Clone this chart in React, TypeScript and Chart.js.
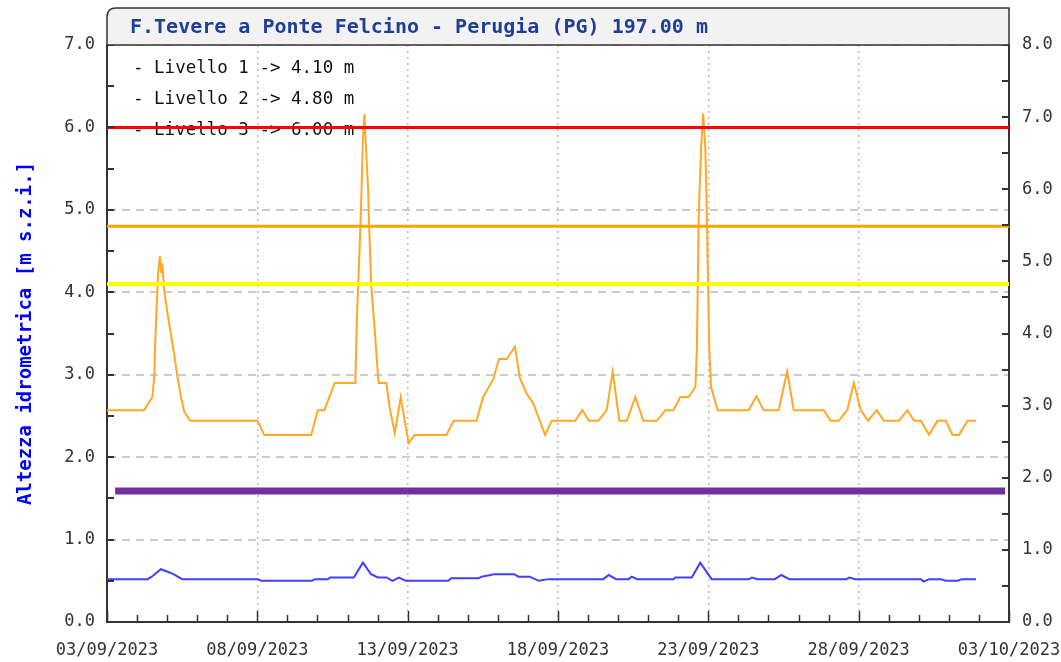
import React, { useEffect, useRef } from 'react';
import { Chart, registerables } from 'chart.js';

Chart.register(...registerables);

const chartTitle = 'F.Tevere a Ponte Felcino - Perugia (PG) 197.00 m';
const yAxisTitle = 'Altezza idrometrica [m s.z.i.]';
const xTickLabels = ['03/09/2023', '08/09/2023', '13/09/2023', '18/09/2023', '23/09/2023', '28/09/2023', '03/10/2023'];

const thresholdNames = ['Livello 1', 'Livello 2', 'Livello 3'];
const thresholdValues = [4.1, 4.8, 6.0];

// days since 03/09/2023 00:00
const orangeDays = [
  0, 1.23, 1.51, 1.57, 1.6, 1.65, 1.7, 1.76, 1.81, 1.84, 1.9, 2.01, 2.12, 2.23, 2.34, 2.46, 2.57, 2.77,
  5.01, 5.23, 6.79, 7.01, 7.23, 7.57, 8.26, 8.31, 8.4, 8.46, 8.51, 8.56, 8.6, 8.68, 8.73, 8.79, 8.88, 8.96,
  9.03, 9.29, 9.4, 9.57, 9.77, 9.9, 10.03, 10.23, 11.29, 11.53, 12.29, 12.51, 12.84, 13.04, 13.29, 13.57,
  13.73, 13.96, 14.18, 14.57, 14.79, 15.57, 15.81, 16.03, 16.34, 16.62, 16.82, 17.04, 17.29, 17.57, 17.84,
  18.29, 18.57, 18.84, 19.07, 19.34, 19.57, 19.62, 19.68, 19.76, 19.83, 19.9, 19.95, 20.03, 20.09, 20.31,
  21.34, 21.6, 21.84, 22.34, 22.62, 22.84, 23.84, 24.07, 24.34, 24.62, 24.84, 25.07, 25.31, 25.6, 25.84,
  26.34, 26.62, 26.84, 27.07, 27.34, 27.62, 27.9, 28.12, 28.34, 28.62, 28.9,
];
const orangeValues = [
  2.57, 2.57, 2.73, 2.98, 3.36, 3.81, 4.23, 4.44, 4.23, 4.35, 4.03, 3.75, 3.5, 3.26, 2.98, 2.73, 2.55, 2.44,
  2.44, 2.27, 2.27, 2.57, 2.57, 2.9, 2.9, 3.66, 4.51, 5.16, 5.85, 6.16, 5.85, 5.28, 4.69, 4.07, 3.66, 3.26,
  2.9, 2.9, 2.6, 2.29, 2.73, 2.45, 2.17, 2.27, 2.27, 2.44, 2.44, 2.73, 2.94, 3.19, 3.19, 3.34,
  2.96, 2.77, 2.65, 2.27, 2.44, 2.44, 2.57, 2.44, 2.44, 2.57, 3.04, 2.44, 2.44, 2.73, 2.44,
  2.44, 2.57, 2.57, 2.73, 2.73, 2.85, 3.32, 4.94, 5.75, 6.17, 5.75, 4.94, 3.32, 2.85, 2.57,
  2.57, 2.74, 2.57, 2.57, 3.04, 2.57, 2.57, 2.44, 2.44, 2.57, 2.9, 2.57, 2.44, 2.57, 2.44,
  2.44, 2.57, 2.44, 2.44, 2.27, 2.44, 2.44, 2.27, 2.27, 2.44, 2.44,
];

const blueDays = [
  0, 1.35, 1.49, 1.79, 2.02, 2.21, 2.5, 5.03, 5.12, 6.82, 6.91, 7.35, 7.43, 8.21, 8.51, 8.78, 9.01, 9.3,
  9.49, 9.71, 9.94, 11.35, 11.45, 12.36, 12.46, 12.88, 13.54, 13.68, 14.06, 14.36, 14.69, 16.5, 16.69,
  16.93, 17.35, 17.45, 17.64, 18.84, 18.9, 19.45, 19.73, 20.11, 21.35, 21.45, 21.63, 22.21, 22.43, 22.69,
  24.59, 24.69, 24.88, 27.07, 27.16, 27.35, 27.73, 27.89, 28.3, 28.43, 28.9,
];
const blueValues = [
  0.52, 0.52, 0.55, 0.64, 0.61, 0.58, 0.52, 0.52, 0.5, 0.5, 0.52, 0.52, 0.54, 0.54, 0.72, 0.58, 0.54, 0.54,
  0.5, 0.54, 0.5, 0.5, 0.53, 0.53, 0.55, 0.58, 0.58, 0.55, 0.55, 0.5, 0.52, 0.52, 0.57,
  0.52, 0.52, 0.55, 0.52, 0.52, 0.54, 0.54, 0.72, 0.52, 0.52, 0.54, 0.52, 0.52, 0.57, 0.52,
  0.52, 0.54, 0.52, 0.52, 0.49, 0.52, 0.52, 0.5, 0.5, 0.52, 0.52,
];

const purpleDays = [0.27, 29.87];
const purpleValues = [1.59, 1.59];

const MONO = 'DejaVu Sans Mono';

const toPoints = (xs: number[], ys: number[]) => xs.map((x, i) => ({ x, y: ys[i] }));

const decorPlugin = {
  id: 'decor',
  beforeDatasetsDraw(chart: any) {
    const ctx = chart.ctx;
    ctx.save();
    ctx.font = `17.5px "${MONO}"`;
    ctx.fillStyle = '#111';
    ctx.textBaseline = 'middle';
    ctx.textAlign = 'left';
    thresholdNames.forEach((n, i) => {
      ctx.fillText(`- ${n} -> ${thresholdValues[i].toFixed(2)} m`, 133, 68 + i * 31);
    });
    ctx.restore();
  },
  afterDraw(chart: any) {
    const ctx = chart.ctx;
    const { left, right, top, bottom } = chart.chartArea;
    const xs = chart.scales.x;
    const ys = chart.scales.y;
    const ys2 = chart.scales.y2;
    ctx.save();
    ctx.strokeStyle = '#333';
    ctx.lineWidth = 2;
    ctx.beginPath();
    for (let v = 0; v <= 7; v += 0.5) {
      const y = Math.round(ys.getPixelForValue(v));
      ctx.moveTo(left, y);
      ctx.lineTo(left + 7, y);
    }
    for (let v = 0; v <= 8; v += 0.5) {
      const y = Math.round(ys2.getPixelForValue(v));
      ctx.moveTo(right, y);
      ctx.lineTo(right - 7, y);
    }
    ctx.stroke();
    ctx.lineWidth = 1.5;
    ctx.beginPath();
    for (let d = 0; d <= 30; d++) {
      const x = Math.round(xs.getPixelForValue(d)) + 0.5;
      const len = d % 5 === 0 ? 11 : 7;
      ctx.moveTo(x, bottom);
      ctx.lineTo(x, bottom - len);
    }
    ctx.stroke();

    // title box
    const bx = left, by = 8, bw = right - left, bh = top - 8, r = 9;
    ctx.beginPath();
    ctx.moveTo(bx, by + bh);
    ctx.lineTo(bx, by + r);
    ctx.quadraticCurveTo(bx, by, bx + r, by);
    ctx.lineTo(bx + bw, by);
    ctx.lineTo(bx + bw, by + bh);
    ctx.closePath();
    ctx.fillStyle = '#f2f2f2';
    ctx.fill();
    ctx.strokeStyle = '#333';
    ctx.lineWidth = 1.5;
    ctx.stroke();
    ctx.font = `bold 20px "${MONO}"`;
    ctx.fillStyle = '#1f3f94';
    ctx.textBaseline = 'middle';
    ctx.textAlign = 'left';
    ctx.fillText(chartTitle, 130, 28);
    ctx.restore();
  },
};

export default function App() {
  const ref = useRef<HTMLCanvasElement>(null);
  useEffect(() => {
    if (!ref.current) return;
    Chart.defaults.font.family = MONO;
    const tickFont = { family: MONO, size: 17 };
    const chart = new Chart(ref.current, {
      type: 'line',
      data: {
        datasets: [
          { data: toPoints([0, 30], [thresholdValues[2], thresholdValues[2]]), borderColor: '#ff0000', borderWidth: 3, yAxisID: 'y' },
          { data: toPoints([0, 30], [thresholdValues[1], thresholdValues[1]]), borderColor: '#ffa500', borderWidth: 3, yAxisID: 'y' },
          { data: toPoints([0, 30], [thresholdValues[0], thresholdValues[0]]), borderColor: '#ffff00', borderWidth: 4, yAxisID: 'y' },
          { data: toPoints(orangeDays, orangeValues), borderColor: '#ffa826', borderWidth: 2, yAxisID: 'y' },
          { data: toPoints(blueDays, blueValues), borderColor: '#4040ff', borderWidth: 2, yAxisID: 'y' },
          { data: toPoints(purpleDays, purpleValues), borderColor: '#7030a0', borderWidth: 7, yAxisID: 'y' },
        ],
      },
      options: {
        animation: false,
        responsive: false,
        layout: { padding: { top: 45, left: 0, right: 0, bottom: 0 } },
        elements: { point: { radius: 0 }, line: { tension: 0, fill: false } },
        plugins: { legend: { display: false }, tooltip: { enabled: false }, title: { display: false } },
        scales: {
          x: {
            type: 'linear',
            min: 0,
            max: 30,
            afterFit: (s: any) => { s.height = 40; s.paddingLeft = 0; s.paddingRight = 0; },
            ticks: {
              stepSize: 5,
              autoSkip: false,
              maxRotation: 0,
              padding: 18,
              color: '#333',
              font: tickFont,
              callback: (v: any) => xTickLabels[Math.round(Number(v) / 5)],
            },
            grid: { color: '#bbbbbb', lineWidth: 1.5, drawTicks: false },
            border: { display: true, color: '#333', width: 2, dash: [2, 4] },
          },
          y: {
            position: 'left',
            min: 0,
            max: 7,
            afterFit: (s: any) => { s.width = 107; s.paddingTop = 0; s.paddingBottom = 0; },
            ticks: { stepSize: 1, padding: 12, color: '#333', font: tickFont, callback: (v: any) => Number(v).toFixed(1) },
            grid: { color: '#cccccc', lineWidth: 2, drawTicks: false },
            border: { display: true, color: '#333', width: 2, dash: [8, 6] },
            title: {
              display: true,
              text: yAxisTitle,
              color: '#0000ff',
              font: { family: MONO, size: 19, weight: 'bold' },
              padding: { top: 15, bottom: 0 },
            },
          },
          y2: {
            position: 'right',
            min: 0,
            max: 8,
            afterFit: (s: any) => { s.width = 52; s.paddingTop = 0; s.paddingBottom = 0; },
            ticks: { stepSize: 1, padding: 13, color: '#333', font: tickFont, callback: (v: any) => Number(v).toFixed(1) },
            grid: { drawOnChartArea: false, drawTicks: false },
            border: { display: true, color: '#333', width: 2 },
          },
        },
      },
      plugins: [decorPlugin],
    } as any);
    return () => chart.destroy();
  }, []);
  return (
    <div style={{ position: 'absolute', left: 0, top: 0, width: 1061, height: 662, background: '#fff' }}>
      <canvas ref={ref} width={1061} height={662} style={{ display: 'block' }} />
    </div>
  );
}
